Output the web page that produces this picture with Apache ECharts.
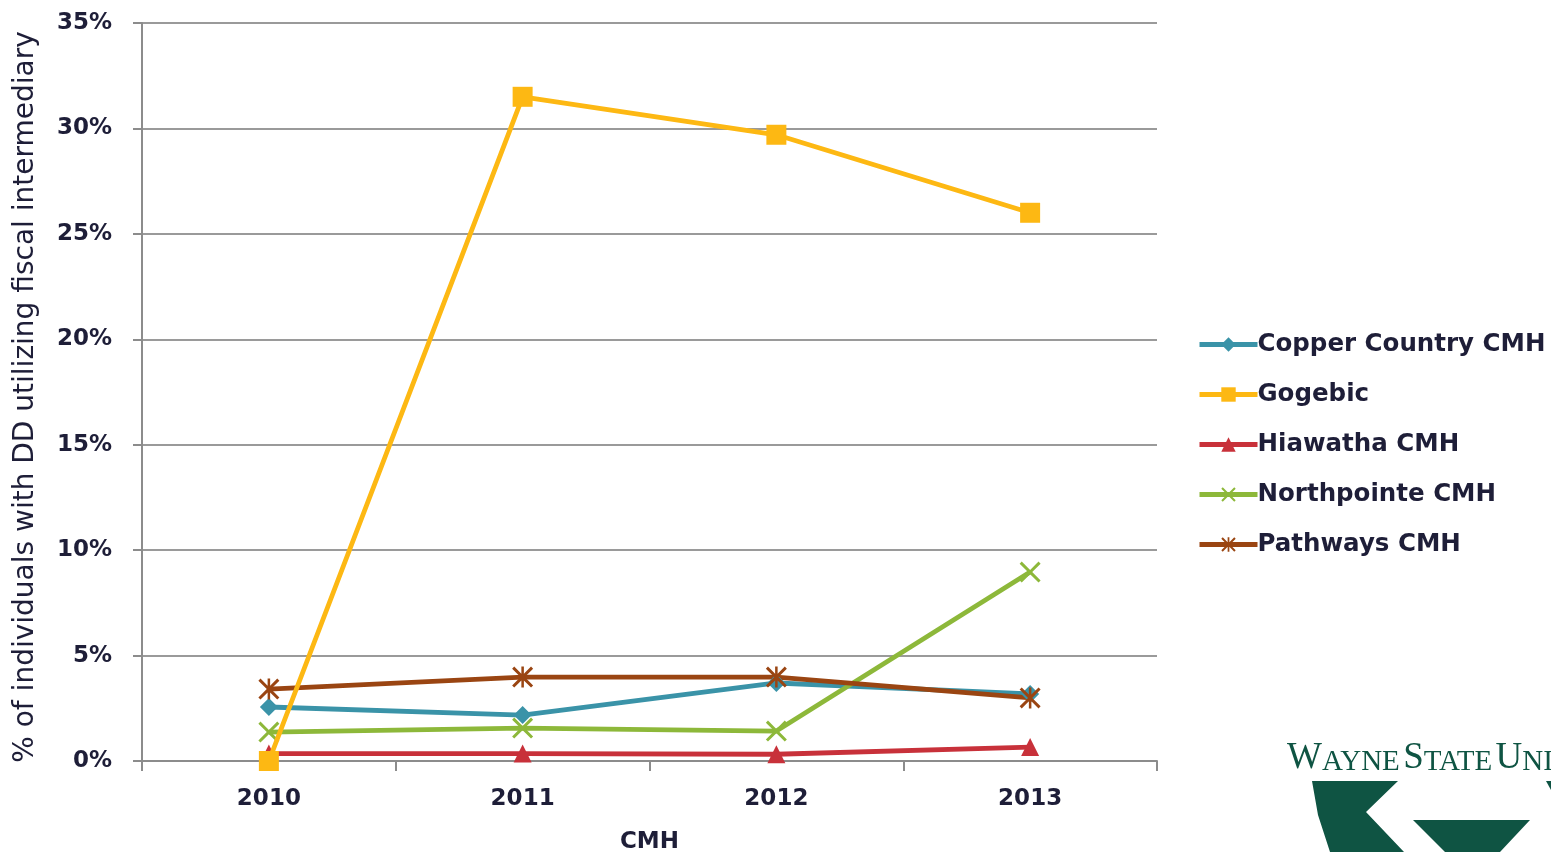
<!DOCTYPE html>
<html>
<head>
<meta charset="utf-8">
<script src="https://cdn.jsdelivr.net/npm/echarts@6/dist/echarts.min.js"></script>
<style>html,body{margin:0;padding:0;background:#fff}#c{width:1551px;height:852px}</style>
</head>
<body>
<div id="c"></div>
<script>
var years = ['2010', '2011', '2012', '2013'];
var yTicks = [0, 5, 10, 15, 20, 25, 30, 35];
var copperCountry = [2.56, 2.18, 3.70, 3.18];
var gogebic = [0.0, 31.5, 29.7, 26.0];
var hiawatha = [0.35, 0.35, 0.32, 0.66];
var northpointe = [1.37, 1.56, 1.42, 8.96];
var pathways = [3.41, 3.98, 3.98, 2.99];
var seriesNames = ['Copper Country CMH', 'Gogebic', 'Hiawatha CMH', 'Northpointe CMH', 'Pathways CMH'];
var xAxisTitle = 'CMH';
var yAxisTitle = '% of individuals with DD utilizing fiscal intermediary';

var colors = ['#3A93A8', '#FDB813', '#C8313A', '#8DB83A', '#9A4512'];
var xPath = 'path://M0,2 L2,0 L10,8 L18,0 L20,2 L12,10 L20,18 L18,20 L10,12 L2,20 L0,18 L8,10 Z';
var starPath = 'path://M0,2 L2,0 L8.8,6.8 L8.8,0 L11.2,0 L11.2,6.8 L18,0 L20,2 L12,10 L20,18 L18,20 L11.2,13.2 L11.2,20 L8.8,20 L8.8,13.2 L2,20 L0,18 L8,10 Z';
var symbols = ['diamond', 'rect', 'triangle', xPath, starPath];
var sizes = [18, 20, 18, 21, 21];
var dataSets = [copperCountry, gogebic, hiawatha, northpointe, pathways];
var font = 'DejaVu Sans';
var green = '#0f5443';

var chart = echarts.init(document.getElementById('c'), null, {renderer: 'canvas'});
chart.setOption({
  animation: false,
  color: colors,
  grid: {left: 142, right: 394, top: 23, bottom: 91, containLabel: false, outerBoundsMode: 'none'},
  legend: {
    orient: 'vertical', left: 1192, top: 327,
    itemWidth: 58, itemHeight: 18, itemGap: 25,
    lineStyle: {width: 5},
    textStyle: {fontFamily: font, fontWeight: 'bold', fontSize: 24.5, color: '#1e1e38', padding: [0, 0, 0, -5]},
    data: seriesNames
  },
  xAxis: {
    type: 'category', data: years, boundaryGap: true,
    name: xAxisTitle, nameLocation: 'middle', nameGap: 70,
    nameTextStyle: {fontFamily: font, fontWeight: 'bold', fontSize: 23, color: '#1e1e38'},
    axisLine: {lineStyle: {color: '#8c8c8c', width: 2}},
    axisTick: {show: true, length: 10, alignWithLabel: false, lineStyle: {color: '#8c8c8c', width: 2}},
    axisLabel: {margin: 27, fontFamily: font, fontWeight: 'bold', fontSize: 23, color: '#1e1e38'}
  },
  yAxis: {
    type: 'value', min: 0, max: 35, interval: 5,
    name: yAxisTitle, nameLocation: 'middle', nameGap: 102,
    nameTextStyle: {fontFamily: font, fontSize: 28, color: '#1e1e38', padding: [0, 0, 0, -10]},
    axisLine: {show: true, lineStyle: {color: '#8c8c8c', width: 2}},
    axisTick: {show: true, length: 9, lineStyle: {color: '#8c8c8c', width: 2}},
    splitLine: {lineStyle: {color: '#9a9a9a', width: 2}},
    axisLabel: {margin: 30, fontFamily: font, fontWeight: 'bold', fontSize: 23, color: '#1e1e38',
      formatter: function (v) { return yTicks.indexOf(v) >= 0 ? v + '%' : ''; }}
  },
  series: seriesNames.map(function (n, i) {
    return {
      name: n, type: 'line', data: dataSets[i],
      symbol: symbols[i], symbolSize: sizes[i], showAllSymbol: true,
      lineStyle: {width: 4.8, color: colors[i]},
      itemStyle: {color: colors[i]},
      z: i === 1 ? 3 : 2
    };
  }),
  graphic: [
    {type: 'text', left: 1287, top: 740, style: {
      text: '{b|W}{s|AYNE} {b|S}{s|TATE} {b|U}{s|NIVERSITY}',
      rich: {
        b: {fontFamily: 'Liberation Serif', fontSize: 37, fill: green, color: green},
        s: {fontFamily: 'Liberation Serif', fontSize: 29, fill: green, color: green, verticalAlign: 'bottom'}
      },
      fill: green}},
    {type: 'polygon', shape: {points: [[1312, 781], [1398, 781], [1366, 812], [1404, 852], [1330, 852], [1318, 815]]},
      style: {fill: green}},
    {type: 'polygon', shape: {points: [[1413, 820], [1530, 820], [1500, 852], [1445, 852]]},
      style: {fill: green}},
    {type: 'polygon', shape: {points: [[1546, 781], [1551, 781], [1551, 790]]},
      style: {fill: green}}
  ]
});
</script>
</body>
</html>
